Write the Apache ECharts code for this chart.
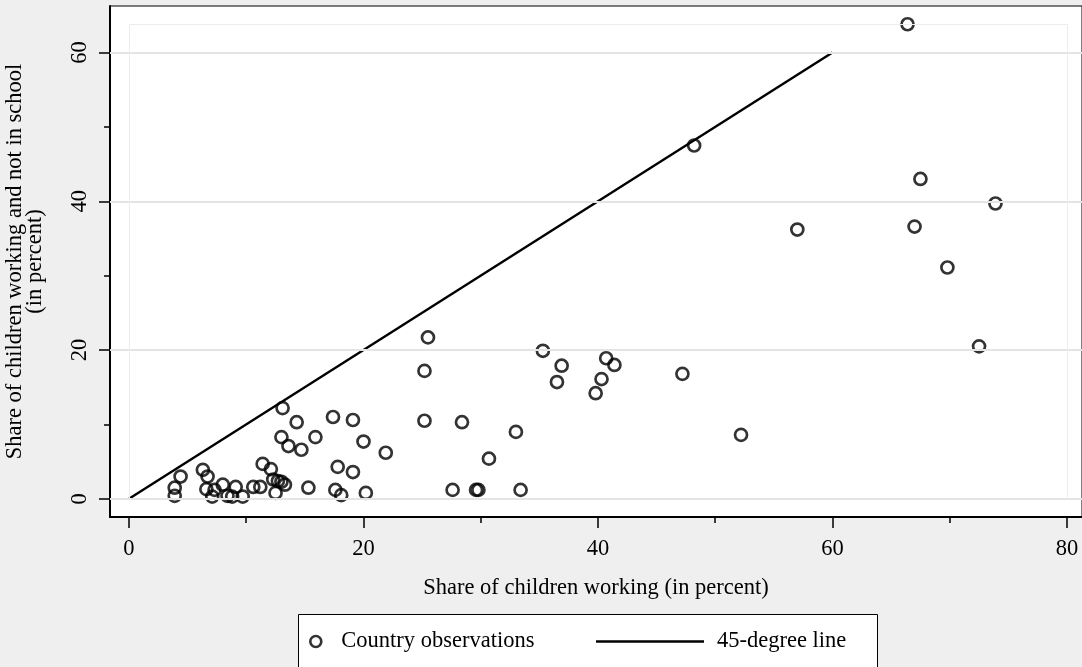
<!DOCTYPE html>
<html>
<head>
<meta charset="utf-8">
<script src="https://cdn.jsdelivr.net/npm/echarts@6/dist/echarts.min.js"></script>
<style>
  html, body { margin: 0; padding: 0; background: #efefef; }
  #chart { width: 1082px; height: 667px; }
</style>
</head>
<body>
<div id="chart"></div>
<script>
// share of children working (x) vs working and not in school (y), percent
var workShare = [
  66.4, 48.2, 67.5, 73.9, 57.0, 67.0, 69.8, 72.5, 52.2,
  25.5, 25.2, 35.3, 40.7, 36.9, 41.4, 36.5, 40.3, 47.2, 39.8,
  25.2, 28.4, 33.0, 30.7, 27.6, 29.6, 29.8, 33.4,
  3.9, 3.9, 4.4, 6.3, 6.7, 6.6, 7.1, 7.3, 8.0, 8.4, 8.8, 9.1, 9.7,
  10.6, 11.2, 11.4, 12.1, 12.3, 12.7, 13.0, 13.3, 12.5,
  13.1, 14.3, 13.0, 13.6, 14.7, 15.9, 15.3,
  17.4, 19.1, 20.0, 21.9, 17.8, 19.1, 17.6, 18.1, 20.2
]
var notInSchoolShare = [
  63.8, 47.5, 43.0, 39.7, 36.2, 36.6, 31.1, 20.5, 8.6,
  21.7, 17.2, 19.9, 18.9, 17.9, 18.0, 15.7, 16.1, 16.8, 14.2,
  10.5, 10.3, 9.0, 5.4, 1.2, 1.2, 1.2, 1.2,
  1.5, 0.4, 3.0, 3.9, 3.0, 1.3, 0.3, 1.2, 1.9, 0.4, 0.3, 1.6, 0.3,
  1.6, 1.6, 4.7, 4.0, 2.6, 2.4, 2.3, 1.9, 0.8,
  12.2, 10.3, 8.3, 7.1, 6.6, 8.3, 1.5,
  11.0, 10.6, 7.7, 6.2, 4.3, 3.6, 1.2, 0.5, 0.8
]
var lineX = [0, 60]
var lineY = [0, 60]
var xTicks = [0, 20, 40, 60, 80]
var xMinorTicks = [10, 30, 50, 70]
var yTicks = [0, 20, 40, 60]
var yMinorTicks = [10, 30, 50]

var font = 'Liberation Serif, Times New Roman, serif'
var xRange = [-1.62, 81.28]
var yRange = [-2.44, 66.25]
var frameTop = 63.8

var myChart = echarts.init(document.getElementById('chart'))

var points = workShare.map(function (x, i) { return [x, notInSchoolShare[i]] })
var diag = lineX.map(function (x, i) { return [x, lineY[i]] })

var gridLines = yTicks.map(function (v) { return { yAxis: v } })
var frameLines = [
  [{ coord: [xTicks[0], 0] }, { coord: [xTicks[0], frameTop] }],
  [{ coord: [xTicks[4], 0] }, { coord: [xTicks[4], frameTop] }],
  [{ coord: [xTicks[0], frameTop] }, { coord: [xTicks[4], frameTop] }]
]

function baseX (extra) {
  return Object.assign({
    type: 'value',
    position: 'bottom',
    min: xRange[0],
    max: xRange[1],
    splitLine: { show: false },
    axisLine: { show: true, onZero: false, lineStyle: { color: '#000', width: 2 } }
  }, extra)
}
function baseY (extra) {
  return Object.assign({
    type: 'value',
    position: 'left',
    min: yRange[0],
    max: yRange[1],
    splitLine: { show: false },
    axisLine: { show: true, onZero: false, lineStyle: { color: '#000', width: 2 } }
  }, extra)
}

var option = {
  backgroundColor: '#efefef',
  animation: false,
  textStyle: { fontFamily: font, color: '#000' },
  grid: {
    left: 110,
    top: 6,
    right: 0,
    bottom: 150,
    containLabel: false,
    outerBoundsMode: 'none',
    show: true,
    backgroundColor: '#fff',
    borderColor: '#000',
    borderWidth: 1
  },
  graphic: [{
    type: 'rect',
    left: 298,
    top: 614,
    shape: { width: 579, height: 70 },
    style: { fill: '#fff', stroke: '#000', lineWidth: 1 },
    z: 0
  }],
  legend: [{
    data: ['Country observations'],
    left: 309,
    top: 630,
    padding: 0,
    itemWidth: 11,
    itemHeight: 11,
    selectedMode: false,
    itemStyle: { borderWidth: 2.6 },
    textStyle: { fontFamily: font, fontSize: 22.5, color: '#000', padding: [0, 0, 0, 15] },
    z: 5
  }, {
    data: [{ name: '45-degree line', icon: 'rect' }],
    left: 596,
    top: 630,
    padding: 0,
    itemWidth: 108,
    itemHeight: 2.5,
    selectedMode: false,
    textStyle: { fontFamily: font, fontSize: 22.5, color: '#000', padding: [0, 0, 0, 8] },
    z: 5
  }],
  xAxis: [
    baseX({
      name: 'Share of children working (in percent)',
      nameLocation: 'middle',
      nameGap: 60,
      nameTextStyle: { fontFamily: font, fontSize: 22.5, color: '#000' },
      axisTick: { show: true, length: 11, customValues: xTicks, lineStyle: { color: '#000', width: 1.5 } },
      axisLabel: { show: true, margin: 21, customValues: xTicks, fontFamily: font, fontSize: 22.5, color: '#000' }
    }),
    baseX({
      axisLine: { show: false, onZero: false },
      axisTick: { show: true, length: 6, customValues: xMinorTicks, lineStyle: { color: '#000', width: 1.5 } },
      axisLabel: { show: false }
    })
  ],
  yAxis: [
    baseY({
      name: 'Share of children working and not in school\n(in percent)',
      nameLocation: 'middle',
      nameGap: 65,
      nameRotate: 90,
      nameTextStyle: { fontFamily: font, fontSize: 22.5, color: '#000', lineHeight: 20 },
      axisTick: { show: true, length: 11, customValues: yTicks, lineStyle: { color: '#000', width: 1.5 } },
      axisLabel: { show: true, margin: 18, rotate: 90, customValues: yTicks, fontFamily: font, fontSize: 22.5, color: '#000' }
    }),
    baseY({
      axisLine: { show: false, onZero: false },
      axisTick: { show: true, length: 6, customValues: yMinorTicks, lineStyle: { color: '#000', width: 1.5 } },
      axisLabel: { show: false }
    })
  ],
  series: [
    {
      name: 'grid',
      type: 'line',
      data: [],
      z: 1,
      silent: true,
      markLine: {
        silent: true,
        symbol: 'none',
        label: { show: false },
        lineStyle: { color: '#e4e4e4', width: 2, type: 'solid' },
        data: gridLines
      }
    },
    {
      name: 'frame',
      type: 'line',
      data: [],
      z: 1,
      silent: true,
      markLine: {
        silent: true,
        symbol: 'none',
        label: { show: false },
        lineStyle: { color: '#ececec', width: 1, type: 'solid' },
        data: frameLines
      }
    },
    {
      name: 'Country observations',
      type: 'scatter',
      data: points,
      symbol: 'circle',
      symbolSize: 12,
      itemStyle: { color: 'transparent', borderColor: '#000', borderWidth: 2.7 },
      z: 4
    },
    {
      name: '45-degree line',
      type: 'line',
      data: diag,
      symbol: 'none',
      lineStyle: { color: '#000', width: 2.4 },
      itemStyle: { color: '#000' },
      z: 3
    }
  ]
}

myChart.setOption(option, true)
</script>
</body>
</html>
